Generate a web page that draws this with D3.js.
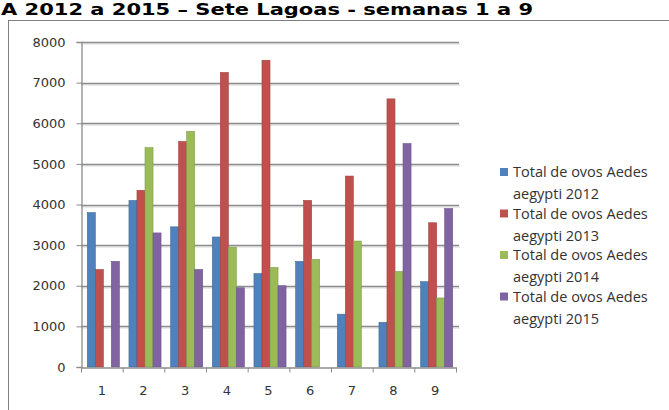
<!DOCTYPE html>
<html>
<head>
<meta charset="utf-8">
<script src="https://cdn.jsdelivr.net/npm/d3@7"></script>
<style>
  body { margin: 0; background: #fff; }
  svg { display: block; }
</style>
</head>
<body>
<svg id="chart" width="669" height="410"></svg>
<script>
var weeks = [ "1", "2", "3", "4", "5", "6", "7", "8", "9" ];
var series_names = [ "Total de ovos Aedes aegypti 2012", "Total de ovos Aedes aegypti 2013",
                     "Total de ovos Aedes aegypti 2014", "Total de ovos Aedes aegypti 2015" ];
var eggs_2012 = [ 3800, 4100, 3450, 3200, 2300, 2600, 1300, 1100, 2100 ];
var eggs_2013 = [ 2400, 4350, 5550, 7250, 7550, 4100, 4700, 6600, 3550 ];
var eggs_2014 = [ 0, 5400, 5800, 2950, 2450, 2650, 3100, 2350, 1700 ];
var eggs_2015 = [ 2600, 3300, 2400, 1950, 2000, 0, 0, 5500, 3900 ];
var y_ticks = [ 0, 1000, 2000, 3000, 4000, 5000, 6000, 7000, 8000 ];
var series_colors = [ "#4F81BD", "#C0504D", "#9BBB59", "#8064A2" ];

var all_series = [ eggs_2012, eggs_2013, eggs_2014, eggs_2015 ];

var MARGIN = { left: 81, right: 456, top: 42, bottom: 367 };

var svg = d3.select( "#chart" );

// title
svg.append( "text" )
  .attr( "x", 1 )
  .attr( "y", 15 )
  .attr( "textLength", 532 )
  .attr( "lengthAdjust", "spacingAndGlyphs" )
  .style( "font-family", "DejaVu Sans, Verdana, sans-serif" )
  .style( "font-weight", "bold" )
  .style( "font-size", "16px" )
  .attr( "fill", "#000" )
  .text( "A 2012 a 2015 \u2013 Sete Lagoas - semanas 1 a 9" );

// chart frame
svg.append( "rect" )
  .attr( "x", 10 ).attr( "y", 22 )
  .attr( "width", 680 ).attr( "height", 420 )
  .attr( "fill", "none" )
  .attr( "stroke", "#d6d6d6" )
  .attr( "stroke-width", 3 );
svg.append( "rect" )
  .attr( "x", 8.5 ).attr( "y", 20.5 )
  .attr( "width", 680 ).attr( "height", 420 )
  .attr( "fill", "#fff" )
  .attr( "stroke", "#7f7f7f" )
  .attr( "stroke-width", 1 );

var x = d3.scaleBand()
  .domain( weeks )
  .range( [ MARGIN.left, MARGIN.right ] )
  .paddingInner( 0.23 )
  .paddingOuter( 0.115 );

var x_inner = d3.scaleBand()
  .domain( d3.range( all_series.length ) )
  .range( [ 0, x.bandwidth() ] );

var y = d3.scaleLinear()
  .domain( [ 0, 8000 ] )
  .range( [ MARGIN.bottom, MARGIN.top ] );

var step = x.step();

// gridlines with a soft shadow
var grid = svg.append( "g" ).classed( "grid", true );
grid.selectAll( ".grid-shadow" )
  .data( y_ticks.slice( 1 ) )
  .enter().append( "line" )
  .classed( "grid-shadow", true )
  .attr( "x1", MARGIN.left ).attr( "x2", MARGIN.right + 4 )
  .attr( "y1", function( d ){ return Math.round( y( d ) ) + 2; } )
  .attr( "y2", function( d ){ return Math.round( y( d ) ) + 2; } )
  .attr( "stroke", "#e4e4e4" ).attr( "stroke-width", 1.5 );
grid.selectAll( ".grid-line" )
  .data( y_ticks.slice( 1 ) )
  .enter().append( "line" )
  .classed( "grid-line", true )
  .attr( "x1", MARGIN.left ).attr( "x2", MARGIN.right + 3 )
  .attr( "y1", function( d ){ return Math.round( y( d ) ) + 0.5; } )
  .attr( "y2", function( d ){ return Math.round( y( d ) ) + 0.5; } )
  .attr( "stroke", "#8c8c8c" ).attr( "stroke-width", 1.3 );

// bars
var groups = svg.append( "g" ).selectAll( "g" )
  .data( weeks )
  .enter().append( "g" )
  .attr( "transform", function( d ){ return "translate(" + ( x( d ) + 1.5 ) + ",0)"; } );

groups.selectAll( "rect" )
  .data( function( d, i ){
    return all_series.map( function( s, k ){ return { k: k, v: s[ i ] }; } );
  } )
  .enter().append( "rect" )
  .attr( "x", function( d ){ return x_inner( d.k ); } )
  .attr( "width", x_inner.bandwidth() )
  .attr( "y", function( d ){ return y( d.v ); } )
  .attr( "height", function( d ){ return y( 0 ) - y( d.v ); } )
  .attr( "fill", function( d ){ return series_colors[ d.k ]; } )
  .attr( "stroke", function( d ){ return d3.color( series_colors[ d.k ] ).darker( 0.5 ); } )
  .attr( "stroke-width", 0.6 );

// y axis
var y_axis = svg.append( "g" )
  .attr( "transform", "translate(" + ( MARGIN.left + 0.5 ) + ",0)" )
  .call( d3.axisLeft( y ).tickValues( y_ticks ).tickFormat( d3.format( "d" ) ).tickSize( 5 ).tickPadding( 11 ) );
y_axis.select( ".domain" ).attr( "stroke", "#8c8c8c" ).attr( "stroke-width", 1.3 );
y_axis.selectAll( ".tick line" ).attr( "stroke", "#8c8c8c" );
y_axis.selectAll( "text" )
  .style( "font-family", "DejaVu Sans, Verdana, sans-serif" )
  .style( "font-size", "13px" )
  .attr( "fill", "#333" );

// x axis
var x_axis = svg.append( "g" )
  .attr( "transform", "translate(0," + ( MARGIN.bottom + 0.5 ) + ")" )
  .call( d3.axisBottom( x ).tickSize( 0 ).tickPadding( 18 ) );
x_axis.select( ".domain" ).attr( "stroke", "#8c8c8c" ).attr( "stroke-width", 1.3 );
x_axis.selectAll( "text" )
  .style( "font-family", "DejaVu Sans, Verdana, sans-serif" )
  .style( "font-size", "13px" )
  .attr( "fill", "#333" );
x_axis.selectAll( ".sep" )
  .data( d3.range( weeks.length + 1 ) )
  .enter().append( "line" )
  .classed( "sep", true )
  .attr( "x1", function( i ){ return MARGIN.left + i * step + 0.5; } )
  .attr( "x2", function( i ){ return MARGIN.left + i * step + 0.5; } )
  .attr( "y1", 0 ).attr( "y2", 5 )
  .attr( "stroke", "#8c8c8c" );

// legend
var legend = svg.append( "g" ).selectAll( "g" )
  .data( series_names )
  .enter().append( "g" )
  .attr( "transform", function( d, i ){ return "translate(500," + ( 172 + i * 41.5 ) + ")"; } );

legend.append( "rect" )
  .attr( "x", 0 ).attr( "y", -4 )
  .attr( "width", 8 ).attr( "height", 8 )
  .attr( "fill", function( d, i ){ return series_colors[ i ]; } );

legend.append( "text" )
  .attr( "x", 13 )
  .attr( "y", 0 )
  .style( "font-family", "Open Sans, sans-serif" )
  .style( "font-size", "14.5px" )
  .attr( "fill", "#333" )
  .selectAll( "tspan" )
  .data( function( d ){ return [ d.slice( 0, 19 ), d.slice( 20 ) ]; } )
  .enter().append( "tspan" )
  .attr( "x", 13 )
  .attr( "dy", function( d, i ){ return i == 0 ? "0.35em" : 22; } )
  .text( function( d ){ return d; } );
</script>
</body>
</html>
